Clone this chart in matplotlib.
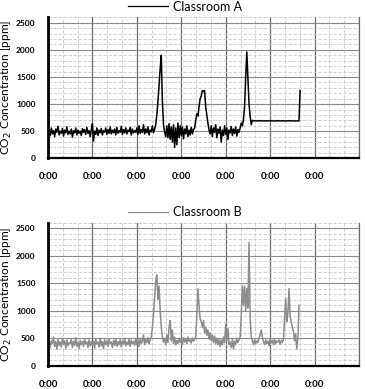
import numpy as np
import matplotlib
matplotlib.use("Agg")
import matplotlib.pyplot as plt
from matplotlib.ticker import MultipleLocator, FixedLocator, FixedFormatter

plt.rcParams['font.family'] = ['Lato', 'DejaVu Sans']

# sampling interval of the logger, in days (36 min)
step = 0.025

# Classroom A, ppm, one value per step starting at day 0
co2_a = [
    # day 0
    470, 530, 420, 560, 450, 510, 400, 540, 480, 590, 430, 500, 460, 550, 410, 520, 470, 580, 440, 500,
    450, 540, 390, 510, 470, 560, 430, 520, 460, 500, 420, 550, 480, 530, 440, 570, 460, 510, 400, 530,
    # day 1
    640, 320, 500, 440, 560, 420, 520, 470, 550, 430, 510, 480, 560, 440, 530, 460, 580, 450, 520, 470,
    540, 430, 570, 460, 510, 480, 590, 440, 530, 470, 560, 450, 520, 490, 570, 430, 540, 470, 510, 480,
    # day 2 .. 2.375
    560, 440, 600, 460, 530, 480, 620, 450, 540, 470, 580, 430, 520, 490, 600, 470,
    # first peak 2.40 .. 2.625
    540, 620, 800, 1050, 1350, 1650, 1900, 1050, 620, 480,
    # 2.65 .. 3.275
    400, 600, 380, 640, 350, 580, 300, 620, 200, 560, 250, 650, 380, 600,
    420, 580, 360, 540, 450, 600, 400, 520, 430, 570, 450, 530,
    # second peak 3.30 .. 3.625
    560, 700, 820, 780, 950, 1100, 1150, 1250, 1230, 1250, 950, 800, 650, 520,
    # 3.65 .. 4.30
    450, 600, 400, 560, 480, 620, 380, 540, 460, 580, 300, 520, 420, 600, 440, 560, 350, 520, 470, 590,
    420, 540, 460, 580, 410, 530, 480,
    # third peak 4.325 .. 4.60
    560, 650, 600, 720, 950, 1500, 1960, 1500, 1000, 780, 620, 700,
    # flat part 4.625 .. 5.65, then jump
    690, 690, 695, 690, 690, 690, 695, 690, 690, 690, 690, 695, 690, 690, 690, 690, 695, 690, 690, 690,
    690, 690, 695, 690, 690, 690, 690, 695, 690, 690, 690, 690, 695, 690, 690, 690, 690, 690, 690, 690,
    690, 690, 1250,
]

# Classroom B, ppm
co2_b = [
    # day 0
    380, 470, 330, 450, 400, 520, 350, 440, 300, 480, 370, 430, 340, 500, 390, 450, 320, 470, 360, 420,
    400, 480, 330, 440, 370, 510, 350, 430, 310, 460, 380, 440, 350, 490, 400, 430, 330, 470, 360, 440,
    # day 1
    370, 450, 320, 480, 390, 430, 340, 500, 360, 440, 310, 470, 380, 450, 350, 480, 400, 430, 330, 460,
    370, 490, 350, 440, 380, 470, 340, 450, 390, 500, 360, 430, 380, 480, 350, 460, 400, 440, 370, 490,
    # day 2 .. 2.30
    380, 470, 350, 500, 400, 450, 560, 380, 480, 420, 510, 400, 470,
    # first peak 2.325 .. 2.575
    520, 700, 950, 1250, 1550, 1650, 1200, 1450, 1000, 700, 520,
    # 2.60 .. 2.875
    430, 500, 380, 560, 420, 700, 820, 450, 650, 400, 520, 380,
    # 2.90 .. 3.30
    460, 400, 500, 420, 470, 380, 510, 430, 480, 400, 520, 440, 470, 410, 500, 450, 480,
    # second peak 3.325 .. 4.075
    520, 900, 1400, 1100, 850, 800, 700, 820, 600, 700, 550, 650, 480, 600, 450, 560, 420, 540, 400, 500,
    380, 480, 350, 470, 380, 520, 420, 750, 450, 680, 380,
    # 4.10 .. 4.325
    430, 330, 480, 300, 450, 380, 500, 420, 470, 520,
    # third peak 4.35 .. 4.60
    900, 1450, 1100, 1450, 1000, 1400, 1050, 2240, 900, 520, 450,
    # 4.625 .. 5.30
    380, 470, 400, 450, 420, 500, 560, 650, 520, 440, 380, 470, 400, 450, 360, 480,
    420, 460, 380, 480, 400, 450, 430, 470, 390, 460, 420, 480,
    # fourth peak 5.325 .. 5.65
    850, 1230, 800, 950, 1400, 900, 800, 700, 620, 450, 580, 300, 500, 1100,
]

series = [("Classroom A", co2_a, "black"), ("Classroom B", co2_b, "#8c8c8c")]

x_ticks = [0, 1, 2, 3, 4, 5, 6, 7]
x_tick_labels = ["0:00", "0:00", "0:00", "0:00", "0:00", "0:00", "0:00", ""]

fig = plt.figure(figsize=(3.65, 3.89), dpi=100)
rects = [[0.1315, 0.593, 0.852, 0.3625], [0.1315, 0.060, 0.852, 0.3674]]

for rect, (name, vals, col) in zip(rects, series):
    ax = fig.add_axes(rect)
    t = np.arange(len(vals)) * step
    ax.plot(t, vals, color=col, lw=1.1, label=name)
    ax.set_xlim(0, 7)
    ax.set_ylim(0, 2600)
    ax.yaxis.set_major_locator(FixedLocator([0, 500, 1000, 1500, 2000, 2500]))
    ax.yaxis.set_minor_locator(MultipleLocator(100))
    ax.xaxis.set_major_locator(FixedLocator(x_ticks))
    ax.xaxis.set_major_formatter(FixedFormatter(x_tick_labels))
    ax.xaxis.set_minor_locator(MultipleLocator(1 / 3))
    ax.grid(which="minor", color="#c8c8c8", ls=(0, (4, 2)), lw=0.6)
    ax.grid(which="major", axis="y", color="#8a8a8a", lw=0.8)
    ax.grid(which="major", axis="x", color="#6a6a6a", lw=0.9)
    ax.set_axisbelow(True)
    ax.tick_params(which="both", length=0)
    ax.tick_params(axis="y", pad=9, labelsize=6)
    ax.tick_params(axis="x", pad=10, labelsize=7)
    for lab in ax.get_xticklabels() + ax.get_yticklabels():
        lab.set_fontweight("bold")
    ax.spines["top"].set_visible(False)
    ax.spines["right"].set_color("#6a6a6a")
    ax.spines["right"].set_linewidth(0.9)
    ax.spines["left"].set_linewidth(2)
    ax.spines["bottom"].set_linewidth(1.6)
    ax.set_ylabel("CO$_2$ Concentration [ppm]", fontsize=8.6)
    ax.yaxis.set_label_coords(-0.11, 0.5)
    leg = ax.legend(loc="lower center", bbox_to_anchor=(0.44, 0.98), frameon=False,
                    fontsize=9, handlelength=3.2, handletextpad=0.4, borderpad=0.1)
    for h in leg.get_lines():
        h.set_linewidth(0.9)

fig.savefig("out.png", dpi=100)
